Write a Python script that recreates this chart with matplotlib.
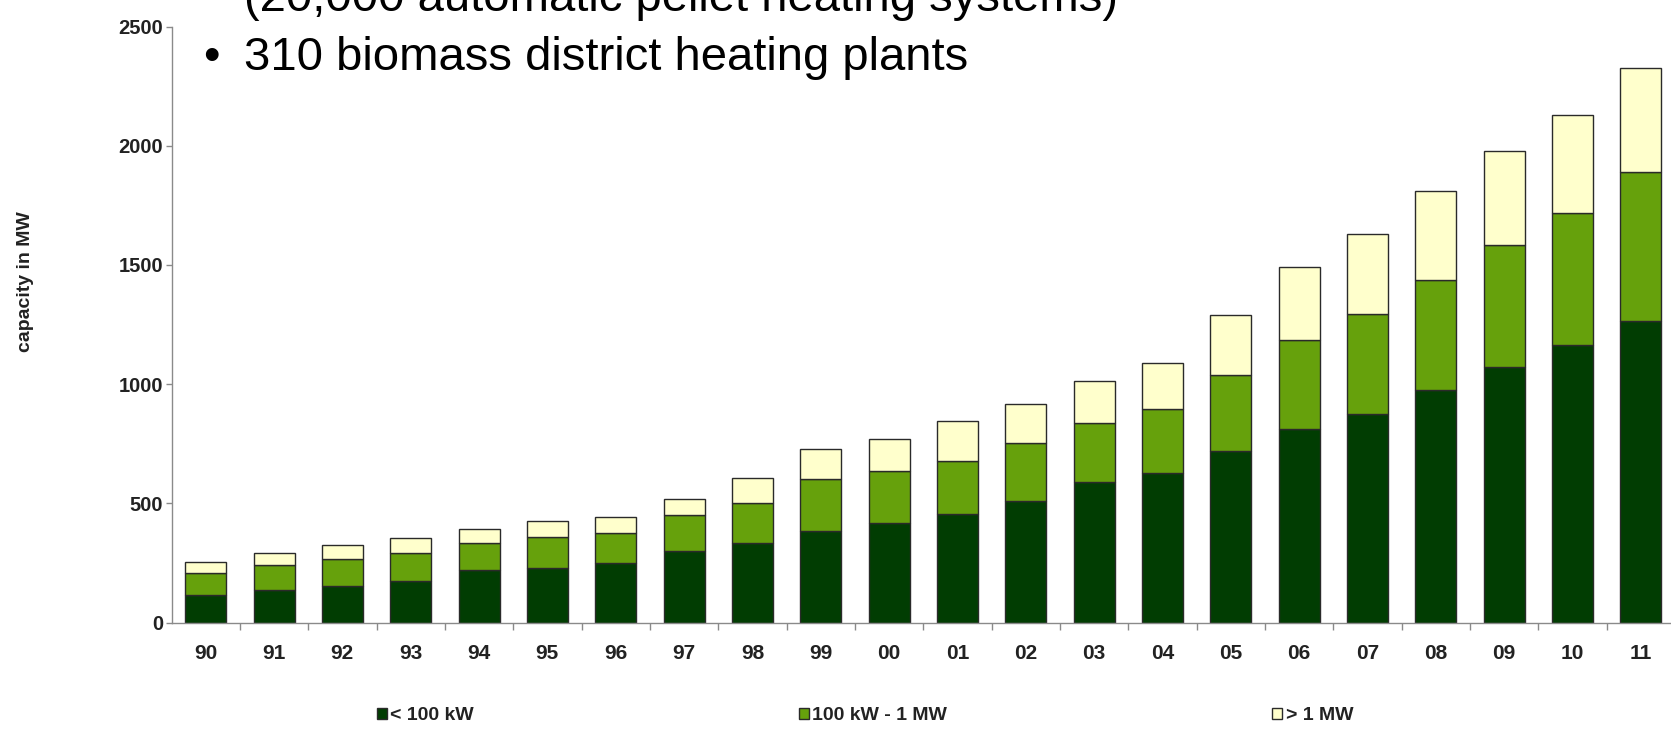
import matplotlib
matplotlib.use("Agg")
import matplotlib.pyplot as plt
import numpy as np

# Jahre (zweistellig) und Leistung je Größenklasse in MW
jahre = ["90", "91", "92", "93", "94", "95", "96", "97", "98", "99", "00",
         "01", "02", "03", "04", "05", "06", "07", "08", "09", "10", "11"]
unter_100kw = [116, 137, 154, 176, 221, 228, 249, 302, 335, 384, 420,
               455, 511, 589, 628, 720, 813, 877, 977, 1073, 1166, 1267]
kw100_bis_1mw = [91, 105, 112, 115, 112, 133, 126, 150, 166, 217, 217,
                 222, 243, 248, 268, 318, 374, 417, 462, 510, 554, 621]
ueber_1mw = [49, 49, 60, 63, 59, 65, 67, 67, 104, 126, 133,
             168, 163, 176, 193, 253, 305, 337, 372, 393, 409, 436]
legende = ["< 100 kW", "100 kW - 1 MW", "> 1 MW"]

plt.rcParams["font.family"] = ["Liberation Sans", "DejaVu Sans"]

W, H = 1671, 731
fig = plt.figure(figsize=(W / 100, H / 100), dpi=100)
ax = fig.add_axes([171.5 / W, 108.3 / H, 1503.5 / W, 596.2 / H])

x = np.arange(len(jahre))
breite = 0.6
kante = dict(edgecolor="#2a2a2a", linewidth=1.0)
b1 = ax.bar(x, unter_100kw, breite, color="#013d02", label=legende[0], **kante)
b2 = ax.bar(x, kw100_bis_1mw, breite, bottom=unter_100kw, color="#66a10c",
            label=legende[1], **kante)
unten = np.array(unter_100kw) + np.array(kw100_bis_1mw)
b3 = ax.bar(x, ueber_1mw, breite, bottom=unten, color="#ffffcc",
            label=legende[2], **kante)

ax.set_xlim(-0.5, 21.5)
ax.set_ylim(0, 2500)
ax.set_yticks(range(0, 2501, 500))
ax.set_xticks(x)
ax.set_xticklabels(jahre)
ax.set_xticks(x[:-1] + 0.5, minor=True)

for s in ["top", "right"]:
    ax.spines[s].set_visible(False)
for s in ["left", "bottom"]:
    ax.spines[s].set_color("#8a8a8a")
    ax.spines[s].set_linewidth(1.0)

ax.tick_params(axis="y", length=4, width=1, color="#8a8a8a", pad=2,
               labelsize=14.5, labelcolor="#222222")
ax.tick_params(axis="x", which="major", length=0, pad=15,
               labelsize=15, labelcolor="#222222")
ax.tick_params(axis="x", which="minor", length=5, width=1, color="#8a8a8a")
for t in ax.get_xticklabels() + ax.get_yticklabels():
    t.set_fontweight("bold")

fig.text(25 / W, 1 - 282 / H, "capacity in MW", rotation=90, ha="center",
         va="center", fontsize=14, fontweight="bold", color="#222222")

# Folientext oben (erste Zeile angeschnitten)
fig.text(244 / W, 1 - 11 / H, "(20,000 automatic pellet heating systems)",
         fontsize=34, va="baseline", ha="left", color="black")
fig.text(211 / W, 1 - 70 / H, "•", fontsize=34, va="baseline", ha="center",
         color="black")
fig.text(244 / W, 1 - 70 / H, "310 biomass district heating plants",
         fontsize=34, va="baseline", ha="left", color="black")

fig.legend(handles=[b1, b2, b3], labels=legende, loc="center",
           bbox_to_anchor=(865 / W, 1 - 716 / H), ncol=3, frameon=False,
           handlelength=0.5, handleheight=0.5, handletextpad=0.2,
           columnspacing=16.7, prop={"size": 14, "weight": "bold"},
           labelcolor="#222222")

fig.savefig("out.png", dpi=100, facecolor="white")
